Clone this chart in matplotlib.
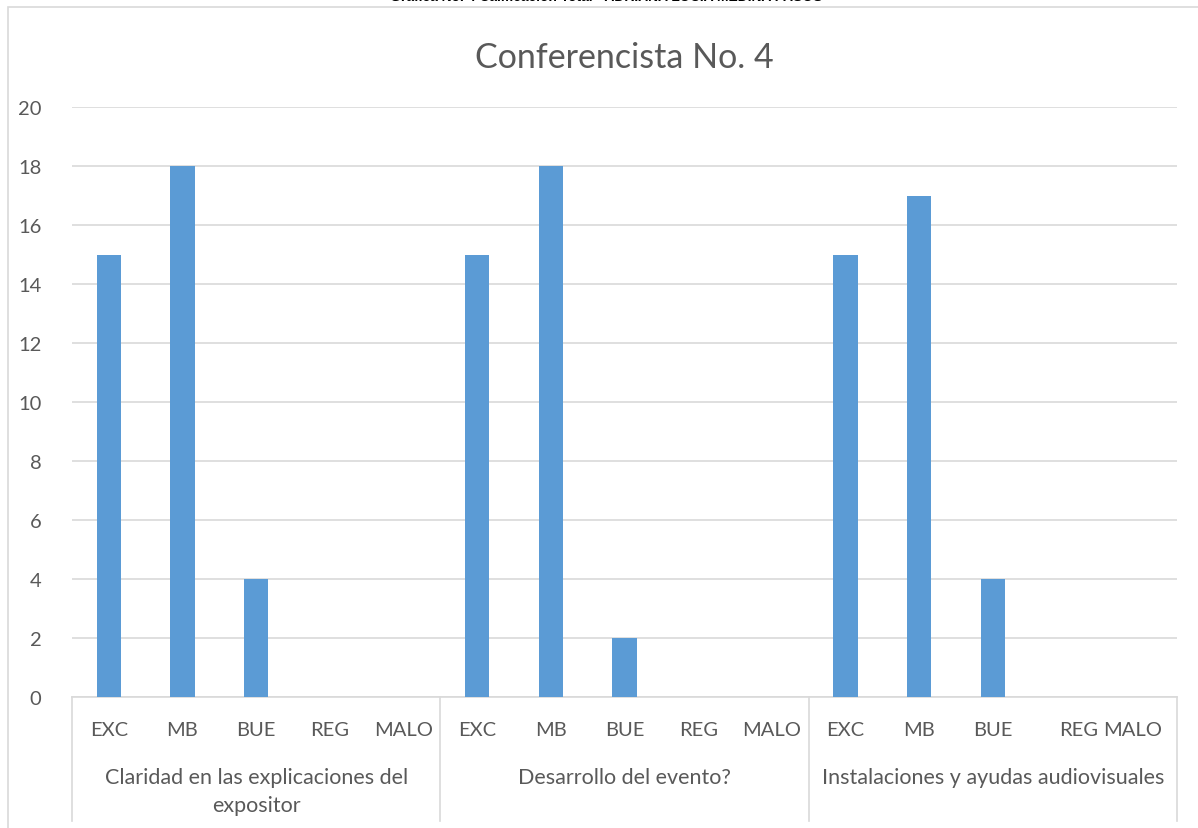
# Conferencista No. 4 - bar chart with grouped category axis
import matplotlib.pyplot as plt
from matplotlib.patches import Rectangle

plt.rcParams["font.family"] = ["Lato", "DejaVu Sans"]

groups = ["Claridad en las explicaciones del\nexpositor", "Desarrollo del evento?", "Instalaciones y ayudas audiovisuales"]
ratings = ["EXC", "MB", "BUE", "REG", "MALO"]
claridad = [15, 18, 4, 0, 0]
desarrollo = [15, 18, 2, 0, 0]
instalaciones = [15, 17, 4, 0, 0]
yticks = [0, 2, 4, 6, 8, 10, 12, 14, 16, 18, 20]

values = claridad + desarrollo + instalaciones
labels = ratings * 3
x = list(range(len(values)))

text_color = "#595959"
grid_color = "#d9d9d9"
bar_color = "#5b9bd5"

fig = plt.figure(figsize=(11.98, 8.29), dpi=100)
ax = fig.add_axes([72/1198, 1-698/829, (1177-72)/1198, (698-108)/829])

ax.bar(x, values, width=0.33, color=bar_color, zorder=3)
ax.set_xlim(-0.5, len(values) - 0.5)
ax.set_ylim(0, 20)
ax.set_yticks(yticks)
ax.set_yticklabels([str(v) for v in yticks], fontsize=14.5, color=text_color)
ax.tick_params(axis="y", length=0, pad=22)
ax.set_xticks([])
ax.grid(axis="y", color=grid_color, linewidth=1.2, zorder=0)
for s in ["top", "right", "left"]:
    ax.spines[s].set_visible(False)
ax.spines["bottom"].set_color(grid_color)
ax.spines["bottom"].set_linewidth(1.2)

# rating labels under each bar (third group is squeezed like in the original)
trans = ax.get_xaxis_transform()
label_x = list(x)
label_x[13] = 13.16
label_x[14] = 13.9
for xi, lab in zip(label_x, labels):
    ax.text(xi, -0.055, lab, transform=trans, ha="center", va="center",
            fontsize=14.5, color=text_color)

# group labels and dividers
for g, name in enumerate(groups):
    ax.text(g * 5 + 2, -0.118, name, transform=trans, ha="center", va="top",
            fontsize=15.5, color=text_color, linespacing=1.5)
for d in [-0.5, 4.5, 9.5, 14.5]:
    ax.plot([d, d], [0, -0.21], transform=trans, color=grid_color,
            linewidth=1.2, clip_on=False)

ax.set_title("Conferencista No. 4", fontsize=24.5, color=text_color, pad=29)

# outer chart border (left and top visible)
fig.add_artist(Rectangle((8/1198, -0.1), 1.2, 1.1 - 8/829, transform=fig.transFigure,
                         fill=False, edgecolor=grid_color, linewidth=1.2))

# caption cut off at the top of the image
fig.text(606/1198, 1.004, "Grafica No. 4 Calificación Total - ADRIANA LUCIA MEDINA PASOS",
         ha="center", va="center", fontsize=10, fontweight="bold", color="black",
         family=["Liberation Sans", "DejaVu Sans"])

fig.savefig("out.png", dpi=100)
